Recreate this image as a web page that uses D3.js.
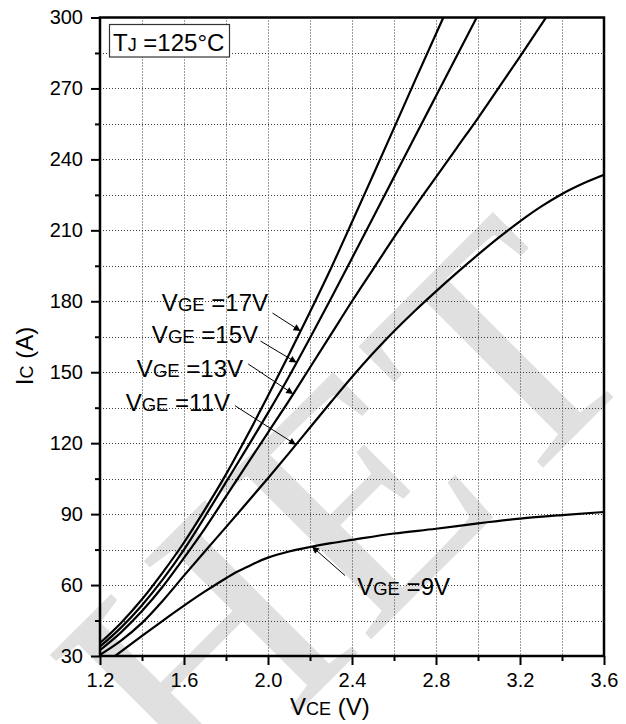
<!DOCTYPE html>
<html>
<head>
<meta charset="utf-8">
<script src="https://cdn.jsdelivr.net/npm/d3@7"></script>
<style>
  html, body { margin: 0; padding: 0; background: #fff; }
  svg { display: block; font-family: "Liberation Sans", Arial, sans-serif; }
</style>
</head>
<body>
<svg id="chart" width="626" height="724"></svg>
<script>
// Output characteristic, IC vs VCE at TJ = 125°C
const vgeLabels = ["17V", "15V", "13V", "11V", "9V"];

const curve17 = [[1.2,35.5],[1.3,44],[1.4,54],[1.5,65.5],[1.6,78],[1.7,92],[1.8,106.8],[1.9,123],[2.0,140],[2.1,157.5],[2.2,175.5],[2.3,194],[2.4,213.5],[2.5,233.3],[2.6,253.2],[2.7,273.3],[2.835,300]];
const curve15 = [[1.2,34],[1.3,42],[1.4,51.5],[1.5,62.5],[1.6,75],[1.7,89],[1.8,103.5],[1.9,118],[2.0,132.8],[2.1,148.2],[2.2,164.5],[2.3,181.2],[2.4,198.2],[2.5,215.3],[2.6,232.5],[2.7,249.7],[2.8,266.8],[2.9,283.9],[2.994,300]];
const curve13 = [[1.2,32.5],[1.3,40],[1.4,49],[1.5,59.5],[1.6,71.5],[1.7,84],[1.8,97.5],[1.9,111],[2.0,124.5],[2.1,138],[2.2,152],[2.3,166],[2.4,180],[2.5,193.5],[2.6,207],[2.7,220],[2.8,232.5],[2.9,245],[3.0,257.5],[3.1,270.5],[3.2,283.5],[3.324,300]];
const curve11 = [[1.2,30.5],[1.3,36.5],[1.4,44],[1.5,53.5],[1.6,64],[1.7,74.3],[1.8,84.5],[1.9,94.8],[2.0,105.2],[2.1,115.8],[2.2,126.6],[2.3,137.4],[2.4,148],[2.5,158],[2.6,167.3],[2.7,176],[2.8,184.2],[2.9,192.1],[3.0,199.7],[3.1,207],[3.2,213.8],[3.3,220],[3.4,225.4],[3.5,229.8],[3.6,233.5]];
const curve9  = [[1.272,30],[1.4,38.5],[1.5,45],[1.6,51.3],[1.7,57.3],[1.8,62.9],[1.85,65.5],[1.9,67.6],[1.95,69.8],[2.0,71.6],[2.1,74.2],[2.2,76.1],[2.3,77.7],[2.4,79.1],[2.6,81.8],[2.8,83.8],[3.0,86.1],[3.2,88.1],[3.4,89.6],[3.6,90.9]];
const curves = [curve17, curve15, curve13, curve11, curve9];

// VCE where each label's arrow touches its curve
const arrowAt = [2.155, 2.136, 2.12, 2.133, 2.21];

const xMajor = [1.2, 1.6, 2.0, 2.4, 2.8, 3.2, 3.6];
const xMinor = [1.4, 1.8, 2.2, 2.6, 3.0, 3.4];
const yMajor = [30, 60, 90, 120, 150, 180, 210, 240, 270, 300];
const yMinor = [45, 75, 105, 135, 165, 195, 225, 255, 285];

const svg = d3.select("#chart");
const pLeft = 100, pRight = 604, pTop = 17.5, pBottom = 656;

const x = d3.scaleLinear().domain([1.2, 3.6]).range([pLeft, pRight]);
const y = d3.scaleLinear().domain([30, 300]).range([pBottom, pTop]);
const snap = v => Math.round(v) + 0.5;

// watermark behind everything
svg.append("g")
    .attr("transform", "translate(345,510) rotate(-45)")
  .append("text")
    .attr("text-anchor", "middle")
    .attr("y", 110)
    .attr("font-family", "'Liberation Serif', 'DejaVu Serif', serif")
    .attr("font-size", 330)
    .attr("fill", "#e0e0e0")
    .text("HET");

svg.append("defs").append("clipPath").attr("id", "plot-clip")
  .append("rect")
    .attr("x", pLeft).attr("y", pTop)
    .attr("width", pRight - pLeft).attr("height", pBottom - pTop);

// dotted grid
const grid = svg.append("g")
    .attr("stroke", "#3a3a3a")
    .attr("stroke-width", 1)
    .attr("stroke-dasharray", "1,2");

grid.selectAll("line.vgrid")
  .data(xMajor.concat(xMinor).filter(v => v > 1.2 && v < 3.6))
  .join("line")
    .attr("class", "vgrid")
    .attr("x1", d => snap(x(d))).attr("x2", d => snap(x(d)))
    .attr("y1", pTop).attr("y2", pBottom);

grid.selectAll("line.hgrid")
  .data(yMajor.concat(yMinor).filter(v => v > 30 && v < 300))
  .join("line")
    .attr("class", "hgrid")
    .attr("x1", pLeft).attr("x2", pRight)
    .attr("y1", d => snap(y(d))).attr("y2", d => snap(y(d)));

// axes
svg.append("g")
    .attr("transform", `translate(${pLeft},0)`)
    .call(d3.axisLeft(y).tickValues(yMajor).tickSize(9).tickPadding(8));
svg.append("g")
    .attr("transform", `translate(${pLeft},0)`)
    .call(d3.axisLeft(y).tickValues(yMinor).tickSize(5).tickFormat(""));

svg.append("g")
    .attr("transform", `translate(0,${pBottom})`)
    .call(d3.axisBottom(x).tickValues(xMajor).tickSize(9).tickPadding(8).tickFormat(d3.format(".1f")));
svg.append("g")
    .attr("transform", `translate(0,${pBottom})`)
    .call(d3.axisBottom(x).tickValues(xMinor).tickSize(5).tickFormat(""));

svg.selectAll(".domain").remove();
svg.selectAll(".tick line").attr("stroke", "#000").attr("stroke-width", 2);
svg.selectAll(".tick text")
    .attr("font-family", "'Liberation Sans', Arial, sans-serif")
    .attr("font-size", 20)
    .attr("fill", "#000");

// curves
const line = d3.line()
    .x(d => x(d[0]))
    .y(d => y(d[1]))
    .curve(d3.curveMonotoneX);

svg.append("g")
    .attr("clip-path", "url(#plot-clip)")
  .selectAll("path")
  .data(curves)
  .join("path")
    .attr("d", line)
    .attr("fill", "none")
    .attr("stroke", "#000")
    .attr("stroke-width", 2.2);

// frame
svg.append("rect")
    .attr("x", pLeft).attr("y", pTop)
    .attr("width", pRight - pLeft).attr("height", pBottom - pTop)
    .attr("fill", "none")
    .attr("stroke", "#000")
    .attr("stroke-width", 2.5);

// axis titles
function subText(sel, parts) {
  parts.forEach(([t, size]) => sel.append("tspan").attr("font-size", size).text(t));
}

const yTitle = svg.append("text")
    .attr("transform", "translate(33,356) rotate(-90)")
    .attr("text-anchor", "middle")
    .attr("fill", "#000");
subText(yTitle, [["I", 24], ["C", 18], [" (A)", 24]]);

const xTitle = svg.append("text")
    .attr("x", 290).attr("y", 715)
    .attr("fill", "#000");
subText(xTitle, [["V", 24], ["CE", 18], [" (V)", 24]]);

// temperature box
svg.append("rect")
    .attr("x", 109.5).attr("y", 24.5)
    .attr("width", 120).attr("height", 32.5)
    .attr("fill", "#fff")
    .attr("stroke", "#333")
    .attr("stroke-width", 1.2);
const tj = svg.append("text")
    .attr("x", 113).attr("y", 50.5)
    .attr("fill", "#000");
subText(tj, [["T", 24], ["J", 18], [" =125°C", 24]]);

// curve labels with arrows
svg.append("defs").append("marker")
    .attr("id", "head")
    .attr("viewBox", "0 -5 10 10")
    .attr("refX", 10).attr("refY", 0)
    .attr("markerUnits", "userSpaceOnUse")
    .attr("markerWidth", 13).attr("markerHeight", 7)
    .attr("orient", "auto")
  .append("path")
    .attr("d", "M0,-5L10,0L0,5Z")
    .attr("fill", "#000");

// label anchor (text end, baseline) and arrow tail offset from the tip
const labelLayout = [
  { tx: 268, ty: 311,   dx: -28, dy: -18 },
  { tx: 258, ty: 343,   dx: -36, dy: -21.5 },
  { tx: 243, ty: 376.5, dx: -45, dy: -30 },
  { tx: 230, ty: 410.5, dx: -61, dy: -39 },
  { tx: 450, ty: 595,   dx: 33,  dy: 29 }
];

function curveAt(c, v) {
  const i = d3.bisector(d => d[0]).right(c, v);
  const a = c[Math.max(0, i - 1)], b = c[Math.min(c.length - 1, i)];
  if (a === b) return a[1];
  return a[1] + (b[1] - a[1]) * (v - a[0]) / (b[0] - a[0]);
}

const ann = svg.append("g");
vgeLabels.forEach((lab, i) => {
  const L = labelLayout[i];
  const px = x(arrowAt[i]), py = y(curveAt(curves[i], arrowAt[i]));
  ann.append("line")
      .attr("x1", px + L.dx).attr("y1", py + L.dy)
      .attr("x2", px).attr("y2", py)
      .attr("stroke", "#000")
      .attr("stroke-width", 1)
      .attr("marker-end", "url(#head)");
  const t = ann.append("text")
      .attr("x", L.tx).attr("y", L.ty)
      .attr("text-anchor", "end")
      .attr("fill", "#000");
  subText(t, [["V", 24], ["GE", 18.5], [" =" + lab, 24]]);
});
</script>
</body>
</html>
